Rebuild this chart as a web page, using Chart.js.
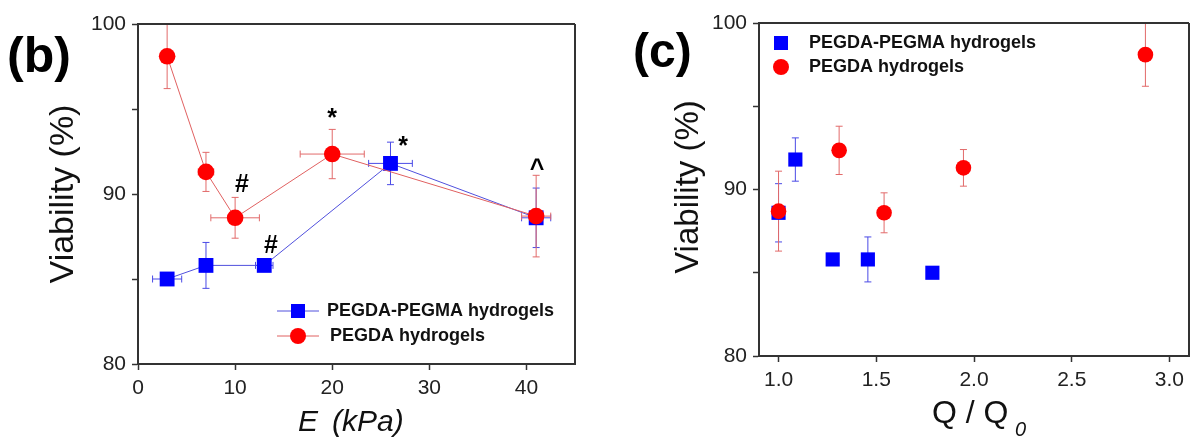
<!DOCTYPE html>
<html>
<head>
<meta charset="utf-8">
<script src="https://cdn.jsdelivr.net/npm/chart.js@4.4.1/dist/chart.umd.min.js"></script>
<style>
  html, body { margin: 0; padding: 0; background: #fff; }
  #wrap { position: relative; width: 1199px; height: 441px; }
  canvas { position: absolute; top: 0; }
  #chartB { left: 0; }
  #chartC { left: 600px; }
</style>
</head>
<body>
<div id="wrap">
  <canvas id="chartB" width="600" height="441"></canvas>
  <canvas id="chartC" width="599" height="441"></canvas>
</div>
<script>
// panel (b): viability vs modulus E (kPa)
const eBlueX = [3, 7, 13, 26, 41];
const eBlueY = [85.0, 85.8, 85.8, 91.8, 88.6];
const eBlueYErr = [0.2, 1.35, 0.2, 1.25, 1.75];
const eBlueXErr = [1.5, 0.4, 0.9, 2.25, 1.5];

const eRedX = [3, 7, 10, 20, 41];
const eRedY = [98.1, 91.3, 88.6, 92.35, 88.7];
const eRedYErr = [1.9, 1.15, 1.2, 1.45, 2.4];
const eRedXErr = [0, 0.8, 2.5, 3.3, 1.5];

// significance marks on panel (b)
const markText = ['#', '#', '*', '*', '^'];
const markX = [10.7, 13.7, 20, 27.3, 41.1];
const markY = [90.1, 86.55, 94.0, 92.35, 91.0];

// panel (c): viability vs swelling ratio Q/Q0
const qBlueX = [1.0, 1.086, 1.277, 1.457, 1.787];
const qBlueY = [88.6, 91.8, 85.8, 85.8, 85.0];
const qBlueErr = [1.75, 1.3, 0.2, 1.35, 0.15];

const qRedX = [1.0, 1.31, 1.54, 1.946, 2.877];
const qRedY = [88.7, 92.35, 88.6, 91.3, 98.1];
const qRedErr = [2.4, 1.45, 1.2, 1.1, 1.9];

const yTicks = [80, 90, 100];
const seriesNames = ['PEGDA-PEGMA hydrogels', 'PEGDA hydrogels'];

const FONT = '"Liberation Sans", Arial, sans-serif';
const RED = '#ff0000';
const BLUE = '#0000ff';
const RED_BAR = '#e26a6a';
const BLUE_BAR = '#4a4ae6';

function pts(xs, ys) {
  return xs.map((x, i) => ({ x: x, y: ys[i] }));
}

function line(ctx, x1, y1, x2, y2) {
  ctx.beginPath();
  ctx.moveTo(x1, y1);
  ctx.lineTo(x2, y2);
  ctx.stroke();
}

// error bars, frame, titles, legend and marks
function makeExtras(cfg) {
  return {
    id: 'extras',
    beforeDatasetsDraw(chart) {
      const ctx = chart.ctx;
      const xs = chart.scales.x, ys = chart.scales.y;
      cfg.bars.forEach(b => {
        ctx.save();
        ctx.strokeStyle = b.color;
        ctx.lineWidth = 1;
        b.x.forEach((xv, i) => {
          const px = xs.getPixelForValue(xv);
          const py = ys.getPixelForValue(b.y[i]);
          const ye = b.yErr[i];
          if (ye) {
            const t = ys.getPixelForValue(b.y[i] + ye);
            const bt = ys.getPixelForValue(b.y[i] - ye);
            line(ctx, px, t, px, bt);
            line(ctx, px - 3.5, t, px + 3.5, t);
            line(ctx, px - 3.5, bt, px + 3.5, bt);
          }
          const xe = b.xErr ? b.xErr[i] : 0;
          if (xe) {
            const l = xs.getPixelForValue(xv - xe);
            const r = xs.getPixelForValue(xv + xe);
            line(ctx, l, py, r, py);
            line(ctx, l, py - 3.5, l, py + 3.5);
            line(ctx, r, py - 3.5, r, py + 3.5);
          }
        });
        ctx.restore();
      });
    },
    afterDraw(chart) {
      const ctx = chart.ctx;
      const a = chart.chartArea;
      ctx.save();
      // top and right frame
      ctx.strokeStyle = '#333';
      ctx.lineWidth = 2;
      line(ctx, a.left, a.top, a.right, a.top);
      line(ctx, a.right, a.top, a.right, a.bottom);

      ctx.fillStyle = '#000';
      // panel letter
      ctx.font = 'bold ' + cfg.panel.size + 'px ' + FONT;
      ctx.textAlign = 'left';
      ctx.textBaseline = 'alphabetic';
      ctx.fillText(cfg.panel.text, cfg.panel.x, cfg.panel.y);

      // y title
      ctx.save();
      ctx.translate(cfg.yTitle.x, cfg.yTitle.y);
      ctx.rotate(-Math.PI / 2);
      ctx.font = cfg.yTitle.size + 'px ' + FONT;
      ctx.textAlign = 'center';
      ctx.textBaseline = 'middle';
      ctx.fillStyle = '#111';
      ctx.fillText('Viability (%)', 0, 0);
      ctx.restore();

      // x title
      ctx.fillStyle = '#111';
      cfg.xTitle.forEach(t => {
        ctx.font = t.font + FONT;
        ctx.textAlign = 'left';
        ctx.textBaseline = 'alphabetic';
        ctx.fillText(t.text, t.x, t.y);
      });

      // legend
      ctx.font = 'bold 18px ' + FONT;
      ctx.textBaseline = 'middle';
      cfg.legend.forEach(g => {
        if (g.line) {
          ctx.strokeStyle = g.lineColor;
          ctx.lineWidth = 1;
          line(ctx, g.mx - 21, g.y, g.mx + 21, g.y);
        }
        ctx.fillStyle = g.color;
        ctx.beginPath();
        if (g.shape === 'rect') {
          ctx.rect(g.mx - 7, g.y - 7, 14, 14);
        } else {
          ctx.arc(g.mx, g.y, 8, 0, Math.PI * 2);
        }
        ctx.fill();
        ctx.fillStyle = '#111';
        ctx.fillText(g.text, g.tx, g.y);
      });

      // significance marks
      if (cfg.marks) {
        ctx.font = 'bold 25px ' + FONT;
        ctx.textAlign = 'center';
        ctx.textBaseline = 'alphabetic';
        ctx.fillStyle = '#000';
        cfg.marks.text.forEach((m, i) => {
          ctx.fillText(m, chart.scales.x.getPixelForValue(cfg.marks.x[i]),
            chart.scales.y.getPixelForValue(cfg.marks.y[i]));
        });
      }
      ctx.restore();
    }
  };
}

function axisOpts(min, max, step, fmt, size) {
  return {
    type: 'linear',
    min: min,
    max: max,
    border: { color: '#333', width: 2 },
    grid: { drawOnChartArea: false, tickLength: 6, tickColor: '#333', tickWidth: 1.5 },
    ticks: {
      stepSize: step,
      includeBounds: false,
      color: '#222',
      padding: 6,
      font: { family: FONT, size: 21 },
      callback: fmt
    },
    afterFit: size
  };
}

const yFmt = v => (yTicks.includes(v) ? String(v) : '');

// (b)
new Chart(document.getElementById('chartB'), {
  type: 'scatter',
  data: {
    datasets: [{
      label: seriesNames[0],
      data: pts(eBlueX, eBlueY),
      showLine: true,
      borderColor: '#5050dd',
      borderWidth: 1,
      pointStyle: 'rect',
      pointRadius: 10.5,
      pointBackgroundColor: BLUE,
      pointBorderColor: BLUE,
      pointBorderWidth: 0,
      order: 1
    }, {
      label: seriesNames[1],
      data: pts(eRedX, eRedY),
      showLine: true,
      borderColor: '#e06060',
      borderWidth: 1,
      pointStyle: 'circle',
      pointRadius: 8.3,
      pointBackgroundColor: RED,
      pointBorderColor: RED,
      pointBorderWidth: 0,
      order: 0
    }]
  },
  options: {
    responsive: false,
    animation: false,
    devicePixelRatio: 1,
    layout: { padding: { left: 0, top: 24, right: 25, bottom: 0 } },
    plugins: { legend: { display: false }, tooltip: { enabled: false } },
    scales: {
      x: axisOpts(0, 45, 10, v => String(v), s => { s.height = 77; }),
      y: axisOpts(80, 100, 5, yFmt, s => { s.width = 138; })
    }
  },
  plugins: [makeExtras({
    bars: [
      { x: eBlueX, y: eBlueY, yErr: eBlueYErr, xErr: eBlueXErr, color: BLUE_BAR },
      { x: eRedX, y: eRedY, yErr: eRedYErr, xErr: eRedXErr, color: RED_BAR }
    ],
    panel: { text: '(b)', x: 7, y: 72, size: 50 },
    yTitle: { x: 64, y: 194, size: 34 },
    xTitle: [
      { text: 'E', x: 298, y: 431, font: 'italic 30px ' },
      { text: '(kPa)', x: 332, y: 431, font: 'italic 30px ' }
    ],
    legend: [
      { text: seriesNames[0], mx: 298, y: 311, tx: 327, shape: 'rect', color: BLUE, line: true, lineColor: '#5050dd' },
      { text: seriesNames[1], mx: 298, y: 336, tx: 330, shape: 'circle', color: RED, line: true, lineColor: '#e06060' }
    ],
    marks: { text: markText, x: markX, y: markY }
  })]
});

// (c)
new Chart(document.getElementById('chartC'), {
  type: 'scatter',
  data: {
    datasets: [{
      label: seriesNames[0],
      data: pts(qBlueX, qBlueY),
      pointStyle: 'rect',
      pointRadius: 10,
      pointBackgroundColor: BLUE,
      pointBorderColor: BLUE,
      pointBorderWidth: 0,
      order: 1
    }, {
      label: seriesNames[1],
      data: pts(qRedX, qRedY),
      pointStyle: 'circle',
      pointRadius: 7.8,
      pointBackgroundColor: RED,
      pointBorderColor: RED,
      pointBorderWidth: 0,
      order: 0
    }]
  },
  options: {
    responsive: false,
    animation: false,
    devicePixelRatio: 1,
    layout: { padding: { left: 0, top: 23, right: 4, bottom: 0 } },
    plugins: { legend: { display: false }, tooltip: { enabled: false } },
    scales: {
      x: axisOpts(0.9, 3.1, 0.5, v => v.toFixed(1), s => { s.height = 85; }),
      y: axisOpts(80, 100, 5, yFmt, s => { s.width = 159; })
    }
  },
  plugins: [makeExtras({
    bars: [
      { x: qBlueX, y: qBlueY, yErr: qBlueErr, color: BLUE_BAR },
      { x: qRedX, y: qRedY, yErr: qRedErr, color: RED_BAR }
    ],
    panel: { text: '(c)', x: 33, y: 67, size: 48 },
    yTitle: { x: 89, y: 187, size: 33 },
    xTitle: [
      { text: 'Q / Q', x: 332, y: 423, font: '32px ' },
      { text: '0', x: 415, y: 436, font: 'italic 20px ' }
    ],
    legend: [
      { text: seriesNames[0], mx: 181, y: 43, tx: 209, shape: 'rect', color: BLUE },
      { text: seriesNames[1], mx: 181, y: 67, tx: 209, shape: 'circle', color: RED }
    ]
  })]
});
</script>
</body>
</html>
